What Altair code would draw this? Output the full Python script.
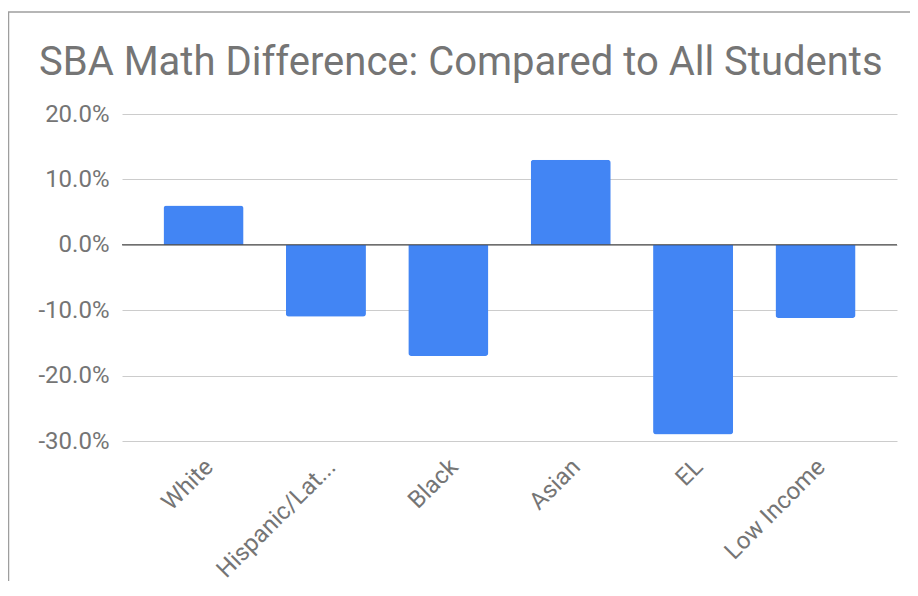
import altair as alt
import pandas as pd

categories = ["White", "Hispanic/Latino", "Black", "Asian", "EL", "Low Income"]
values = [0.06, -0.11, -0.17, 0.13, -0.29, -0.112]
title_text = "SBA Math Difference: Compared to All Students"
y_ticks = [-0.3, -0.2, -0.1, 0.0, 0.1, 0.2]

df = pd.DataFrame({"group": categories, "diff": values})

GREY = "#757575"
BLUE = "#4285F4"

x_enc = alt.X(
    "group:N",
    sort=categories,
    title=None,
    scale=alt.Scale(paddingInner=0.346, paddingOuter=0.339),
    axis=alt.Axis(
        labelAngle=-45,
        labelAlign="right",
        labelBaseline="middle",
        labelFont="Roboto",
        labelFontSize=24,
        labelColor=GREY,
        labelPadding=22,
        labelOffset=6,
        ticks=False,
        domain=False,
        grid=False,
        labelExpr="length(datum.label) > 12 ? substring(datum.label, 0, 12) + '...' : datum.label",
    ),
)
y_enc = alt.Y(
    "diff:Q",
    title=None,
    scale=alt.Scale(domain=[-0.3, 0.2], nice=False),
    axis=alt.Axis(
        values=y_ticks,
        labelExpr="replace(format(datum.value, '.1%'), '\u2212', '-')",
        labelFont="Roboto",
        labelFontSize=24,
        labelColor=GREY,
        labelPadding=13,
        ticks=False,
        domain=False,
        grid=True,
        gridColor="#cccccc",
        gridWidth=1,
    ),
)

base = alt.Chart(df)
pos = base.transform_filter("datum.diff >= 0").mark_bar(
    color=BLUE, cornerRadiusTopLeft=3, cornerRadiusTopRight=3
).encode(x=x_enc, y=y_enc)
neg = base.transform_filter("datum.diff < 0").mark_bar(
    color=BLUE, cornerRadiusBottomLeft=3, cornerRadiusBottomRight=3
).encode(x=x_enc, y=y_enc)

zero = alt.Chart(pd.DataFrame({"z": [0.0]})).mark_rule(color="#333333", strokeWidth=1).encode(y="z:Q")

title = alt.Chart(pd.DataFrame({"t": [title_text]})).mark_text(
    font="Roboto", fontSize=40, color=GREY, align="left", baseline="alphabetic"
).encode(x=alt.value(-83), y=alt.value(-39), text="t:N")

border_left = alt.Chart(pd.DataFrame({"a": [0]})).mark_rule(color="#9e9e9e", strokeWidth=1.5).encode(
    x=alt.value(-113.5), y=alt.value(-102), y2=alt.value(480)
)
border_top = alt.Chart(pd.DataFrame({"a": [0]})).mark_rule(color="#9e9e9e", strokeWidth=1.5).encode(
    x=alt.value(-114), x2=alt.value(796), y=alt.value(-102)
)

chart = alt.layer(pos, neg, zero, title, border_left, border_top).properties(
    width=775,
    height=327,
    autosize=alt.AutoSizeParams(type="none"),
    padding={"left": 114, "top": 106, "right": 13, "bottom": 140},
).configure_view(stroke=None)

chart.save("out.html", embed_options={"renderer": "svg", "actions": False})
